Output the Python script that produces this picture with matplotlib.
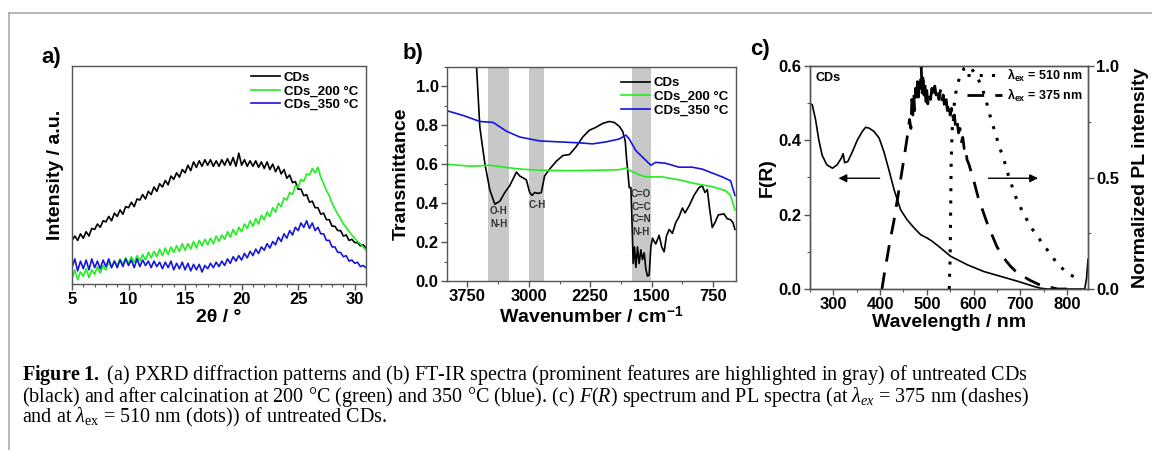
import numpy as np
import matplotlib
matplotlib.use('Agg')
import matplotlib.pyplot as plt
from matplotlib.lines import Line2D
from matplotlib.ticker import MultipleLocator, FormatStrFormatter

plt.rcParams['font.family'] = ['Liberation Sans', 'DejaVu Sans']
plt.rcParams['font.weight'] = 'bold'
plt.rcParams['axes.labelweight'] = 'bold'
plt.rcParams['mathtext.fontset'] = 'custom'
plt.rcParams['mathtext.rm'] = 'Liberation Serif:weight=normal'
plt.rcParams['mathtext.it'] = 'Liberation Serif:style=italic:weight=normal'
plt.rcParams['mathtext.bf'] = 'Liberation Serif:weight=bold'
plt.rcParams['mathtext.sf'] = 'Liberation Sans:weight=bold'

# ---- a) PXRD ----
two_theta = np.arange(5, 31.01, 0.25)
xrd_cds = [0.20, 0.22, 0.2, 0.23, 0.21, 0.24, 0.22, 0.255,
           0.25, 0.275, 0.26, 0.29, 0.285, 0.31, 0.29, 0.325,
           0.31, 0.34, 0.32, 0.355, 0.35, 0.375, 0.355, 0.39,
           0.385, 0.41, 0.39, 0.425, 0.41, 0.445, 0.425, 0.46,
           0.445, 0.475, 0.455, 0.495, 0.48, 0.51, 0.49, 0.525,
           0.51, 0.545, 0.52, 0.56, 0.535, 0.565, 0.54, 0.57,
           0.545, 0.57, 0.54, 0.565, 0.54, 0.57, 0.545, 0.575,
           0.545, 0.58, 0.54, 0.6, 0.545, 0.57, 0.54, 0.565,
           0.54, 0.565, 0.535, 0.56, 0.53, 0.56, 0.525, 0.55,
           0.515, 0.54, 0.505, 0.525, 0.485, 0.5, 0.465, 0.47,
           0.435, 0.435, 0.405, 0.41, 0.375, 0.38, 0.35, 0.35,
           0.32, 0.325, 0.295, 0.295, 0.265, 0.265, 0.245, 0.245,
           0.22, 0.225, 0.2, 0.205, 0.19, 0.19, 0.175, 0.18,
           0.165]
xrd_200 = [0.025, 0.065, 0.02, 0.055, 0.035, 0.07, 0.03, 0.065,
           0.045, 0.08, 0.05, 0.085, 0.065, 0.1, 0.075, 0.105,
           0.085, 0.115, 0.09, 0.12, 0.095, 0.125, 0.1, 0.13,
           0.105, 0.135, 0.11, 0.145, 0.12, 0.15, 0.125, 0.16,
           0.13, 0.165, 0.135, 0.17, 0.145, 0.175, 0.15, 0.185,
           0.155, 0.185, 0.16, 0.195, 0.165, 0.2, 0.175, 0.205,
           0.18, 0.21, 0.185, 0.22, 0.195, 0.225, 0.205, 0.24,
           0.215, 0.25, 0.225, 0.26, 0.24, 0.275, 0.255, 0.29,
           0.265, 0.3, 0.275, 0.315, 0.295, 0.33, 0.31, 0.35,
           0.33, 0.37, 0.355, 0.395, 0.385, 0.42, 0.41, 0.45,
           0.445, 0.48, 0.47, 0.505, 0.5, 0.53, 0.51, 0.535,
           0.49, 0.46, 0.43, 0.405, 0.37, 0.345, 0.32, 0.30,
           0.275, 0.26, 0.24, 0.225, 0.21, 0.195, 0.185, 0.17,
           0.155]
xrd_350 = [0.075, 0.115, 0.06, 0.105, 0.07, 0.11, 0.065, 0.115,
           0.075, 0.105, 0.07, 0.11, 0.08, 0.115, 0.075, 0.105,
           0.075, 0.11, 0.08, 0.115, 0.085, 0.11, 0.075, 0.115,
           0.08, 0.11, 0.085, 0.105, 0.075, 0.105, 0.08, 0.1,
           0.07, 0.1, 0.075, 0.105, 0.065, 0.095, 0.07, 0.1,
           0.065, 0.095, 0.06, 0.09, 0.065, 0.09, 0.055, 0.085,
           0.07, 0.095, 0.075, 0.1, 0.08, 0.105, 0.085, 0.115,
           0.095, 0.125, 0.105, 0.13, 0.11, 0.14, 0.12, 0.15,
           0.13, 0.16, 0.14, 0.17, 0.155, 0.185, 0.165, 0.195,
           0.18, 0.215, 0.195, 0.23, 0.21, 0.245, 0.225, 0.26,
           0.245, 0.28, 0.26, 0.29, 0.255, 0.28, 0.245, 0.26,
           0.23, 0.23, 0.2, 0.2, 0.17, 0.17, 0.145, 0.145,
           0.125, 0.13, 0.105, 0.11, 0.095, 0.1, 0.08, 0.085,
           0.075]

# ---- b) FT-IR ----
wn_cds = [3660, 3639, 3599, 3538, 3477, 3416, 3355, 3294, 3234, 3193, 3152,
          3112, 3071, 3031, 2990, 2962, 2929, 2888, 2848, 2808, 2747, 2666,
          2585, 2504, 2423, 2342, 2261, 2180, 2099, 2017, 1957, 1896, 1855,
          1823, 1807, 1791, 1774, 1754, 1742, 1726, 1710, 1693, 1673, 1653,
          1632, 1612, 1591, 1571, 1551, 1531, 1510, 1490, 1450, 1409, 1377,
          1348, 1320, 1287, 1247, 1206, 1166, 1125, 1093, 1044, 983, 922,
          882, 849, 820, 792, 760, 727, 686, 617, 577, 536, 507, 483]
tr_cds = [1.25, 1.10, 0.79, 0.605, 0.468, 0.395, 0.41, 0.455, 0.49, 0.525, 0.56,
          0.54, 0.53, 0.52, 0.455, 0.44, 0.455, 0.45, 0.455, 0.54, 0.575, 0.615,
          0.645, 0.65, 0.69, 0.74, 0.775, 0.79, 0.81, 0.82, 0.815, 0.795, 0.77,
          0.72, 0.63, 0.56, 0.48, 0.48, 0.33, 0.09, 0.175, 0.07, 0.175, 0.09,
          0.16, 0.11, 0.145, 0.06, 0.025, 0.03, 0.175, 0.22, 0.19, 0.235, 0.175,
          0.15, 0.23, 0.265, 0.245, 0.30, 0.33, 0.375, 0.35, 0.385, 0.44, 0.48,
          0.49, 0.455, 0.47, 0.37, 0.275, 0.30, 0.34, 0.345, 0.32, 0.315, 0.30, 0.265]
wn_200 = [4000, 3700, 3477, 3300, 3100, 2900, 2500, 2100, 1900, 1815, 1750,
          1650, 1571, 1368, 1166, 962, 760, 600, 536, 483]
tr_200 = [0.60, 0.59, 0.595, 0.585, 0.575, 0.57, 0.567, 0.57, 0.572, 0.58, 0.565,
          0.545, 0.535, 0.535, 0.52, 0.50, 0.485, 0.465, 0.44, 0.365]
wn_350 = [4000, 3796, 3599, 3436, 3274, 3112, 2868, 2382, 2220, 2058, 1896,
          1815, 1774, 1693, 1571, 1510, 1450, 1328, 1166, 1004, 882, 760, 638, 536, 483]
tr_350 = [0.875, 0.85, 0.82, 0.815, 0.77, 0.74, 0.72, 0.71, 0.705, 0.715, 0.73,
          0.75, 0.73, 0.67, 0.62, 0.595, 0.61, 0.605, 0.585, 0.585, 0.575, 0.555,
          0.535, 0.515, 0.44]
bands = [(3500, 3240), (3000, 2810), (1740, 1510)]

# ---- c) F(R) and PL ----
wl_fr = [250, 255, 262, 269, 276, 286, 298, 308, 317, 321, 324, 331, 341, 351,
         362, 369, 376, 387, 398, 408, 419, 430, 444, 458, 473, 487, 501, 512,
         530, 551, 587, 622, 658, 694, 729, 744, 758, 800, 838, 842, 845]
fr = [0.50, 0.495, 0.455, 0.40, 0.36, 0.334, 0.325, 0.334, 0.352, 0.364, 0.34,
      0.343, 0.37, 0.40, 0.424, 0.435, 0.433, 0.424, 0.406, 0.37, 0.32, 0.267,
      0.213, 0.186, 0.164, 0.146, 0.137, 0.128, 0.11, 0.088, 0.065, 0.047,
      0.034, 0.021, 0.007, 0.002, 0.0, 0.0, 0.0, 0.03, 0.08]
wl_375 = [404, 410, 420, 430, 440, 450, 458, 463, 466, 468, 470, 472, 474, 476,
          478, 480, 482, 484, 486, 488, 490, 492, 494, 496, 498, 500, 502, 505,
          508, 511, 514, 517, 520, 523, 526, 529, 532, 535, 538, 541, 544, 547,
          550, 553, 556, 559, 562, 565, 568, 571, 574, 577, 580, 583, 586, 590,
          600, 610, 620, 630, 640, 650, 660, 670, 680, 690, 700, 720, 740, 760,
          780, 800]
pl_375 = [0.0, 0.08, 0.20, 0.31, 0.44, 0.57, 0.68, 0.76, 0.72, 0.85, 0.78, 0.88,
          0.80, 0.90, 0.84, 0.93, 0.86, 0.95, 0.90, 1.0, 0.88, 0.97, 0.87, 0.92,
          0.84, 0.89, 0.83, 0.88, 0.85, 0.90, 0.86, 0.91, 0.87, 0.90, 0.85, 0.89,
          0.84, 0.87, 0.82, 0.86, 0.80, 0.84, 0.78, 0.81, 0.75, 0.78, 0.72, 0.75,
          0.70, 0.72, 0.66, 0.68, 0.63, 0.64, 0.58, 0.56, 0.49, 0.41, 0.35, 0.29,
          0.24, 0.19, 0.155, 0.125, 0.10, 0.08, 0.065, 0.04, 0.02, 0.01, 0.0, 0.0]
wl_510 = [548, 550, 551, 552, 554, 557, 562, 570, 580, 587, 595, 605, 615, 625,
          635, 645, 655, 665, 676, 690, 704, 722, 737, 758, 779, 801, 815, 829]
pl_510 = [0.0, 0.15, 0.35, 0.55, 0.70, 0.80, 0.88, 0.95, 0.99, 1.0, 0.99, 0.96,
          0.92, 0.86, 0.78, 0.71, 0.64, 0.58, 0.50, 0.415, 0.35, 0.28, 0.235,
          0.175, 0.115, 0.07, 0.055, 0.045]

W, H = 1152, 450
fig = plt.figure(figsize=(W / 100, H / 100), dpi=100)


def box(l, t, r, b):
    return [l / W, 1 - b / H, (r - l) / W, (b - t) / H]


spine_col = '#555555'
TICK = 12
LAB = 14


def style(ax):
    for s in ax.spines.values():
        s.set_color(spine_col)
        s.set_linewidth(1.0)
    ax.tick_params(which='both', direction='out', color=spine_col, labelsize=TICK,
                   pad=2)
    ax.tick_params(which='major', length=4, width=1)
    ax.tick_params(which='minor', length=2, width=0.8)


leg_kw = dict(frameon=False, fontsize=9.5, handlelength=2.2, handletextpad=0.3,
              labelspacing=0.1, borderaxespad=0.2)

# a)
ax_a = fig.add_axes(box(72, 66, 366, 284))
ax_a.plot(two_theta, xrd_cds, color='black', lw=1.2, label='CDs')
ax_a.plot(two_theta, xrd_200, color='#22ee22', lw=1.2, label='CDs_200 °C')
ax_a.plot(two_theta, xrd_350, color='#1515dd', lw=1.2, label='CDs_350 °C')
ax_a.set_xlim(5, 31)
ax_a.set_ylim(0, 1)
ax_a.set_yticks([])
ax_a.xaxis.set_major_locator(MultipleLocator(5))
ax_a.xaxis.set_minor_locator(MultipleLocator(1))
style(ax_a)
ax_a.set_xlabel('2θ / °', fontsize=LAB, labelpad=1)
ax_a.set_ylabel('Intensity / a.u.', fontsize=LAB, labelpad=6)
ax_a.legend(loc='upper right', bbox_to_anchor=(1.0, 1.01), **leg_kw)

# b)
ax_b = fig.add_axes(box(447, 67, 736, 281))
for hi, lo in bands:
    ax_b.axvspan(lo, hi, color='#c8c8c8', lw=0, zorder=0)
ax_b.plot(wn_cds, tr_cds, color='black', lw=1.2, label='CDs')
ax_b.plot(wn_200, tr_200, color='#22ee22', lw=1.2, label='CDs_200 °C')
ax_b.plot(wn_350, tr_350, color='#1515dd', lw=1.2, label='CDs_350 °C')
ax_b.set_xlim(4000, 470)
ax_b.set_ylim(0, 1.1)
ax_b.set_xticks([3750, 3000, 2250, 1500, 750])
ax_b.xaxis.set_minor_locator(MultipleLocator(375))
ax_b.yaxis.set_major_locator(MultipleLocator(0.2))
ax_b.yaxis.set_minor_locator(MultipleLocator(0.1))
ax_b.yaxis.set_major_formatter(FormatStrFormatter('%.1f'))
style(ax_b)
ax_b.set_xlabel(r'Wavenumber / cm$^{\mathsf{-1}}$', fontsize=LAB, labelpad=1)
ax_b.set_ylabel('Transmittance', fontsize=LAB, labelpad=4)
ax_b.legend(loc='upper right', bbox_to_anchor=(1.0, 0.99), **leg_kw)
ann = dict(fontsize=7, ha='center', va='center', color='#333333',
           linespacing=1.35)
ax_b.text(3370, 0.325, 'O-H\nN-H', **ann)
ax_b.text(2900, 0.39, 'C-H', **ann)
ax_b.text(1630, 0.35, 'C=O\nC=C\nC=N\nN-H', **ann)

# c)
ax_c = fig.add_axes(box(810, 66, 1088, 289))
ax_c.plot(wl_fr, fr, color='black', lw=1.2)
ax_c.set_xlim(250, 845)
ax_c.set_ylim(0, 0.6)
ax_c.xaxis.set_major_locator(MultipleLocator(100))
ax_c.xaxis.set_minor_locator(MultipleLocator(50))
ax_c.yaxis.set_major_locator(MultipleLocator(0.2))
ax_c.yaxis.set_minor_locator(MultipleLocator(0.1))
ax_c.yaxis.set_major_formatter(FormatStrFormatter('%.1f'))
style(ax_c)
ax_c.set_xlabel('Wavelength / nm', fontsize=LAB, labelpad=1)
ax_c.set_ylabel('F(R)', fontsize=LAB, labelpad=2)
ax_c.text(0.02, 0.975, 'CDs', transform=ax_c.transAxes, fontsize=9,
          ha='left', va='top')
arrow = dict(arrowstyle='-|>', color='black', lw=1.0, mutation_scale=12)
ax_c.annotate('', xy=(305, 0.298), xytext=(405, 0.298), arrowprops=arrow)
ax_c.annotate('', xy=(744, 0.298), xytext=(626, 0.298), arrowprops=arrow)

ax_r = ax_c.twinx()
ax_r.plot(wl_510, pl_510, color='black', lw=2.2, ls=(0, (1, 3)),
          label=r'$\mathsf{\lambda_{ex}}$ = 510 nm')
ax_r.plot(wl_375, pl_375, color='black', lw=2.0, ls=(0, (6, 4)),
          label=r'$\mathsf{\lambda_{ex}}$ = 375 nm')
ax_r.set_ylim(0, 1.0)
ax_r.yaxis.set_major_locator(MultipleLocator(0.5))
ax_r.yaxis.set_minor_locator(MultipleLocator(0.25))
ax_r.yaxis.set_major_formatter(FormatStrFormatter('%.1f'))
style(ax_r)
ax_r.set_ylabel('Normalized PL intensity', fontsize=LAB, labelpad=9)
ax_r.legend(loc='upper right', frameon=False, fontsize=9, handlelength=2.8,
            handletextpad=0.4, labelspacing=0.25, borderaxespad=0.0,
            bbox_to_anchor=(1.0, 1.02))

# panel letters
fig.text(51 / W, 1 - 57 / H, 'a)', fontsize=16, ha='center', va='center')
fig.text(413 / W, 1 - 54 / H, 'b)', fontsize=16, ha='center', va='center')
fig.text(760 / W, 1 - 50 / H, 'c)', fontsize=16, ha='center', va='center')

# page frame
fig.add_artist(Line2D([9 / W, 1], [1 - 13 / H, 1 - 13 / H], color='#aaaaaa', lw=1.2))
fig.add_artist(Line2D([9 / W, 9 / W], [0, 1 - 13 / H], color='#aaaaaa', lw=1.2))

# caption
caption = (r'$\mathbf{Figure\ 1.}$ (a) PXRD diffraction patterns and (b) FT-IR spectra '
           '(prominent features are highlighted in gray) of untreated CDs\n'
           '(black) and after calcination at 200 °C (green) and 350 °C (blue). '
           r'(c) $F(R)$ spectrum and PL spectra (at $\lambda_{ex}$ = 375 nm (dashes)'
           '\n'
           r'and at $\lambda_{\mathrm{ex}}$ = 510 nm (dots)) of untreated CDs.')
fig.text(22 / W, 1 - 363 / H, caption, fontsize=14.5, family='Liberation Serif',
         weight='normal', ha='left', va='top', linespacing=0.86)

fig.savefig('out.png', dpi=100)
